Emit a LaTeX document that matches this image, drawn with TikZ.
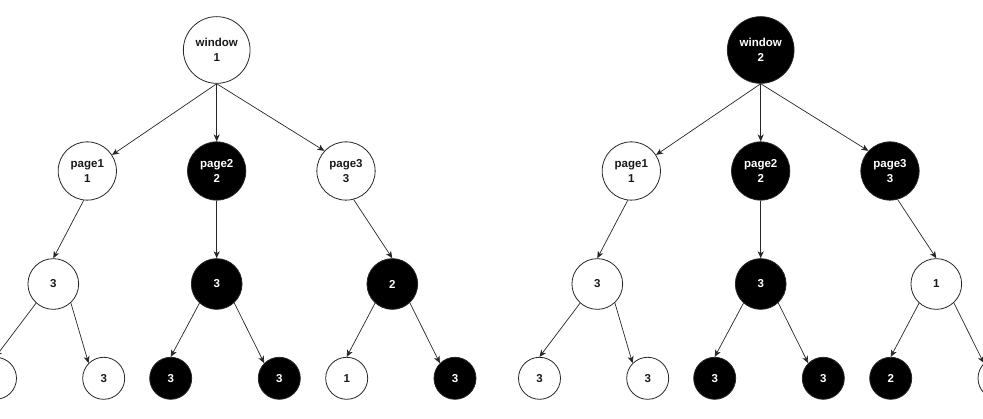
\documentclass[tikz,border=0pt]{standalone}
\usepackage{fontspec}
\setmainfont{Liberation Sans}
\usetikzlibrary{arrows.meta}
\tikzset{
  nd/.style={circle,draw=black!85,line width=0.8pt,inner sep=0pt,align=center,
    font=\bfseries\fontsize{11.5}{14.5}\selectfont,text=black!90},
  blk/.style={fill=black,text=white},
  wn/.style={nd,minimum size=66.7pt},
  pg/.style={nd,minimum size=58.3pt},
  mid/.style={nd,minimum size=50.7pt},
  lf/.style={nd,minimum size=42pt},
  edge/.style={draw=black!85,line width=0.7pt,-{Stealth[length=7pt,width=6pt,inset=2pt]}}
}
\begin{document}
\begin{tikzpicture}[x=1pt,y=-1pt]
\useasboundingbox (0,0) rectangle (983,419);
% ---------- left tree ----------
\node[wn] (Aw) at (216.7,50) {window\\1};
\node[pg] (Ap1) at (87.3,171) {page1\\1};
\node[pg,blk] (Ap2) at (216.7,171) {page2\\2};
\node[pg] (Ap3) at (346,171) {page3\\3};
\node[mid] (Am1) at (53.3,284) {3};
\node[mid,blk] (Am2) at (216.7,284) {3};
\node[mid,blk] (Am3) at (392.3,284) {2};
\node[lf] (Aa) at (-4.5,378.3) {3};
\node[lf] (Ab) at (103.7,378.3) {3};
\node[lf,blk] (Ac) at (170.7,378.3) {3};
\node[lf,blk] (Ad) at (279.3,378.3) {3};
\node[lf] (Ae) at (346.7,378.3) {1};
\node[lf,blk] (Af) at (455,378.3) {3};
\draw[edge] (Aw.south) -- (Ap1.33);
\draw[edge] (Aw.south) -- (Ap2.north);
\draw[edge] (Aw.south) -- (Ap3.137);
\draw[edge] (Ap1.-97) -- (Am1.north);
\draw[edge] (Ap2.south) -- (Am2.north);
\draw[edge] (Ap3.-75) -- (Am3.north);
\draw[edge] (Am1.228) -- (Aa.north);
\draw[edge] (Am1.-47) -- (Ab.135);
\draw[edge] (Am2.228) -- (Ac.north);
\draw[edge] (Am2.-47) -- (Ad.135);
\draw[edge] (Am3.228) -- (Ae.north);
\draw[edge] (Am3.-47) -- (Af.135);
% ---------- right tree ----------
\begin{scope}[xshift=544pt]
\node[wn,blk] (Bw) at (216.7,50) {window\\2};
\node[pg] (Bp1) at (87.3,171) {page1\\1};
\node[pg,blk] (Bp2) at (216.7,171) {page2\\2};
\node[pg,blk] (Bp3) at (346,171) {page3\\3};
\node[mid] (Bm1) at (53.3,284) {3};
\node[mid,blk] (Bm2) at (216.7,284) {3};
\node[mid] (Bm3) at (392.3,284) {1};
\node[lf] (Ba) at (-4.5,378.3) {3};
\node[lf] (Bb) at (103.7,378.3) {3};
\node[lf,blk] (Bc) at (170.7,378.3) {3};
\node[lf,blk] (Bd) at (279.3,378.3) {3};
\node[lf,blk] (Be) at (346.7,378.3) {2};
\node[lf] (Bf) at (455,378.3) {3};
\draw[edge] (Bw.south) -- (Bp1.33);
\draw[edge] (Bw.south) -- (Bp2.north);
\draw[edge] (Bw.south) -- (Bp3.137);
\draw[edge] (Bp1.-97) -- (Bm1.north);
\draw[edge] (Bp2.south) -- (Bm2.north);
\draw[edge] (Bp3.-75) -- (Bm3.north);
\draw[edge] (Bm1.228) -- (Ba.north);
\draw[edge] (Bm1.-47) -- (Bb.135);
\draw[edge] (Bm2.228) -- (Bc.north);
\draw[edge] (Bm2.-47) -- (Bd.135);
\draw[edge] (Bm3.228) -- (Be.north);
\draw[edge] (Bm3.-47) -- (Bf.135);
\end{scope}
\end{tikzpicture}
\end{document}
